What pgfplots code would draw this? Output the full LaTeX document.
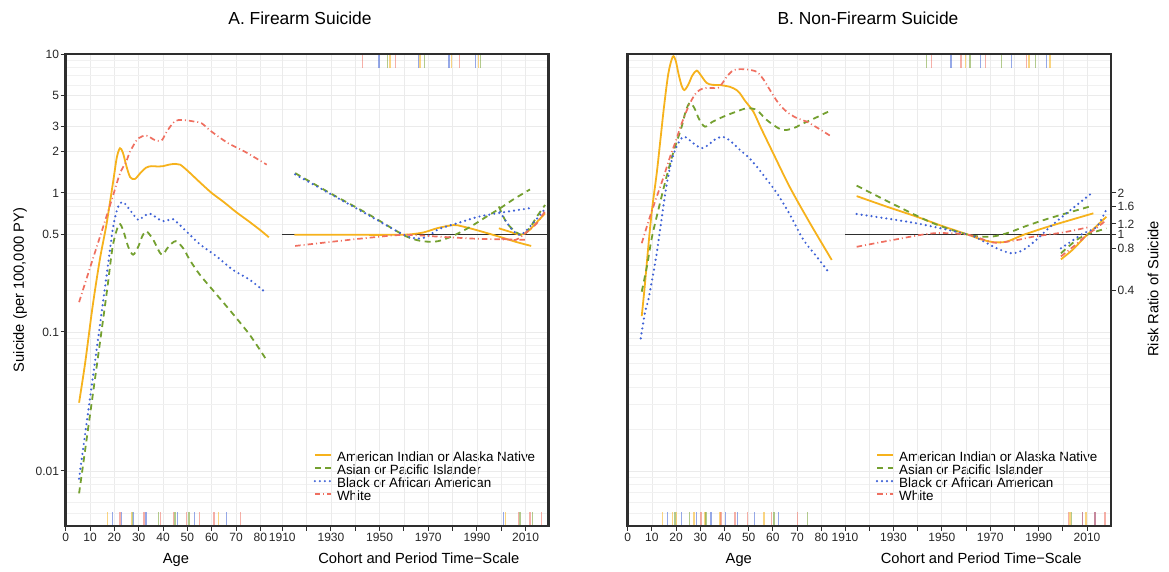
\documentclass[border=0pt]{standalone}
\usepackage{pgfplots}
\pgfplotsset{compat=1.18}
\usepackage{fontspec}
\setmainfont{Liberation Sans}
\definecolor{cA}{HTML}{F6B21C}
\definecolor{cB}{HTML}{74A030}
\definecolor{cC}{HTML}{3F62D6}
\definecolor{cD}{HTML}{EF6F60}
\definecolor{gridc}{HTML}{EBEBEB}
\definecolor{framec}{HTML}{2E2E2E}
\tikzset{
  sA/.style={cA, line width=1.8pt},
  sB/.style={cB, line width=1.8pt, dash pattern=on 6pt off 4.5pt},
  sC/.style={cC, line width=2.4pt, line cap=round, dash pattern=on 0pt off 5pt},
  sD/.style={cD, line width=1.7pt, dash pattern=on 5.5pt off 3pt on 1pt off 3pt},
  myrug/.style={line width=1.3pt, opacity=0.55},
  myref/.style={framec, line width=1.1pt},
  myframe/.style={draw=framec, line width=2.6pt, fill=none, opacity=1},
}
\begin{document}
\begin{tikzpicture}
\useasboundingbox (0,0) rectangle (1169pt,572pt);
% ================= Panel A: age =================
\begin{axis}[scale only axis, width=483pt, height=472pt, at={(65.7pt,46pt)}, anchor=south west,
  ymode=log, ymin=0.004018, ymax=10, xmin=0, xmax=198.5,
  axis line style={draw=none},
  tick style={framec, line width=1pt},
  tick align=outside, major tick length=5pt, minor tick length=0pt,
  xtick pos=bottom, ytick pos=left,
  tick label style={font=\fontsize{12}{12}\selectfont, text=black!85, inner sep=1.5pt},
  grid style={gridc, line width=0.7pt},
  minor grid style={gridc!70, line width=0.5pt},
  xmajorgrids, ymajorgrids, yminorgrids,
  minor ytick={0.005,0.006,0.007,0.008,0.009,0.02,0.03,0.04,0.05,0.06,0.07,0.08,0.09,0.2,0.3,0.4,0.6,0.7,0.8,0.9,4,6,7,8,9},
  xtick={0,10,...,80}, xticklabels={0,10,20,30,40,50,60,70,80},
  ytick={0.01,0.1,0.5,1,2,3,5,10}, yticklabels={0.01,0.1,0.5,1,2,3,5,10},
  unbounded coords=jump,
  legend style={at={(0.513,0.157)}, anchor=north west, draw=none, fill=none,
      inner sep=0pt, row sep=0pt, font=\fontsize{13.4}{13.4}\selectfont,
      nodes={inner ysep=0pt, inner xsep=4pt, text height=9.7pt, text depth=3.3pt}},
  legend cell align=left,
  legend image code/.code={\draw[#1] (0pt,3.5pt) -- (17pt,3.5pt);}]
\addplot[sA, smooth] coordinates {(5.5,0.031) (8,0.06) (11,0.15) (14,0.33) (16.8,0.6) (19.6,1.24) (21,1.8) (22.3,2.1) (23.5,1.95) (25,1.55) (26.5,1.3) (28.4,1.26) (30.5,1.38) (33,1.52) (35.2,1.56) (38,1.55) (40,1.56) (42.5,1.6) (45,1.62) (47,1.6) (50,1.45) (55,1.2) (60,1.0) (65,0.86) (70,0.73) (75,0.63) (80,0.54) (83.5,0.48)};
\addlegendentry{American Indian or Alaska Native}
\addplot[sB, smooth] coordinates {(5.5,0.0069) (8,0.0142) (11,0.034) (14,0.082) (17,0.2) (19,0.38) (20.2,0.485) (22,0.6) (23.6,0.54) (25.7,0.41) (27.7,0.36) (29.8,0.41) (31.5,0.49) (33.2,0.53) (36,0.46) (39.4,0.36) (42.2,0.41) (45.2,0.45) (48.3,0.40) (51,0.33) (55,0.26) (62,0.186) (68.7,0.135) (75.7,0.095) (82.5,0.063)};
\addlegendentry{Asian or Pacific Islander}
\addplot[sC, smooth] coordinates {(5.5,0.0088) (8,0.0185) (11,0.045) (14,0.11) (17,0.27) (19.5,0.57) (21.6,0.80) (23.6,0.86) (26.4,0.755) (29.8,0.64) (32,0.68) (34.6,0.71) (37,0.67) (39.4,0.63) (41.5,0.63) (44,0.65) (47.7,0.57) (55,0.43) (62,0.35) (68.7,0.28) (75.7,0.237) (82.5,0.19)};
\addlegendentry{Black or African American}
\addplot[sD, smooth] coordinates {(5.5,0.164) (10,0.29) (14.1,0.485) (18.9,0.89) (22.3,1.38) (25,1.7) (26.4,1.98) (29.8,2.47) (33.3,2.58) (36.7,2.4) (39.5,2.4) (41.5,2.76) (44.9,3.29) (48.3,3.35) (53.1,3.26) (55.9,3.17) (60,2.76) (66.8,2.28) (73.7,1.98) (82.6,1.6)};
\addlegendentry{White}
\addplot[myrug, cA, forget plot] coordinates {(17.3,0.004018) (17.3,0.00509) (17.3,nan) (27.1,0.004018) (27.1,0.00509) (27.1,nan) (62.7,0.004018) (62.7,0.00509)};
\addplot[myrug, cB, forget plot] coordinates {(27.4,0.004018) (27.4,0.00509) (27.4,nan) (38.1,0.004018) (38.1,0.00509) (38.1,nan) (44.9,0.004018) (44.9,0.00509) (44.9,nan) (50.7,0.004018) (50.7,0.00509)};
\addplot[myrug, cC, forget plot] coordinates {(19.2,0.004018) (19.2,0.00509) (19.2,nan) (23.0,0.004018) (23.0,0.00509) (23.0,nan) (27.8,0.004018) (27.8,0.00509) (27.8,nan) (33.0,0.004018) (33.0,0.00509) (33.0,nan) (45.9,0.004018) (45.9,0.00509) (45.9,nan) (52.9,0.004018) (52.9,0.00509) (52.9,nan) (66.2,0.004018) (66.2,0.00509)};
\addplot[myrug, cD, forget plot] coordinates {(22.3,0.004018) (22.3,0.00509) (22.3,nan) (32.2,0.004018) (32.2,0.00509) (32.2,nan) (39.0,0.004018) (39.0,0.00509) (39.0,nan) (44.2,0.004018) (44.2,0.00509) (44.2,nan) (49.7,0.004018) (49.7,0.00509) (49.7,nan) (54.9,0.004018) (54.9,0.00509) (54.9,nan) (61.0,0.004018) (61.0,0.00509) (61.0,nan) (71.9,0.004018) (71.9,0.00509)};
\end{axis}
% ================= Panel A: cohort / period =================
\begin{axis}[scale only axis, width=483pt, height=472pt, at={(65.7pt,46pt)}, anchor=south west,
  ymode=log, ymin=0.004018, ymax=10, xmin=1821, xmax=2019.5, clip=false,
  axis line style={draw=none},
  tick style={framec, line width=1pt},
  tick align=outside, major tick length=5pt,
  xtick pos=bottom,
  tick label style={font=\fontsize{12}{12}\selectfont, text=black!85, inner sep=1.5pt},
  xtick={1910,1920,...,2010}, xticklabels={1910,,1930,,1950,,1970,,1990,,2010},
  xmajorgrids, grid style={gridc, line width=0.7pt}, ytick=\empty, unbounded coords=jump]
\addplot[myref] coordinates {(1910,0.5) (2019.5,0.5)};
\addplot[sA, smooth] coordinates {(1915,0.5) (1935,0.5) (1955,0.5) (1962,0.503) (1968,0.52) (1974,0.56) (1980.5,0.588) (1984,0.575) (1990,0.54) (2000,0.48) (2006,0.445) (2012.3,0.416)};
\addplot[sB, smooth] coordinates {(1915.3,1.39) (1930,0.99) (1945,0.71) (1959.7,0.5) (1965,0.46) (1969.3,0.447) (1974,0.45) (1980,0.49) (1987.2,0.57) (1993,0.66) (1999.5,0.776) (2005,0.9) (2011.8,1.06)};
\addplot[sC, smooth] coordinates {(1915.3,1.36) (1930,0.98) (1945,0.7) (1960,0.5) (1966,0.47) (1970,0.49) (1974.3,0.55) (1982.5,0.61) (1990.7,0.675) (2001.6,0.73) (2012.3,0.78)};
\addplot[sD, smooth] coordinates {(1915.3,0.416) (1930,0.445) (1945,0.475) (1960,0.5) (1974.3,0.485) (1988,0.47) (1997,0.465) (2010,0.46)};
\addplot[sA, smooth] coordinates {(1999,0.557) (2003,0.53) (2008,0.5) (2011,0.53) (2014,0.6) (2018,0.714)};
\addplot[sB, smooth] coordinates {(1999,0.80) (2002,0.62) (2005.6,0.53) (2009,0.5) (2012,0.57) (2014.6,0.675) (2018,0.82)};
\addplot[sC, smooth] coordinates {(1999.5,0.73) (2004,0.557) (2008,0.5) (2013,0.605) (2018,0.77)};
\addplot[sD, smooth] coordinates {(2000,0.47) (2006,0.46) (2009,0.5) (2012,0.55) (2014.6,0.605) (2018,0.74)};
\addplot[myrug, cA] coordinates {(1954.3,7.93) (1954.3,10) (1954.3,nan) (1966.6,7.93) (1966.6,10) (1966.6,nan) (1979.6,7.93) (1979.6,10) (1979.6,nan) (1990.6,7.93) (1990.6,10)};
\addplot[myrug, cB] coordinates {(1953.2,7.93) (1953.2,10) (1953.2,nan) (1968.4,7.93) (1968.4,10) (1968.4,nan) (1991.6,7.93) (1991.6,10)};
\addplot[myrug, cC] coordinates {(1949.8,7.93) (1949.8,10) (1949.8,nan) (1965.9,7.93) (1965.9,10) (1965.9,nan) (1978.5,7.93) (1978.5,10) (1978.5,nan) (1989.5,7.93) (1989.5,10)};
\addplot[myrug, cD] coordinates {(1942.9,7.93) (1942.9,10) (1942.9,nan) (1956.6,7.93) (1956.6,10) (1956.6,nan) (1982.7,7.93) (1982.7,10)};
\addplot[myrug, cA] coordinates {(2001.8,0.004018) (2001.8,0.00509)};
\addplot[myrug, cB] coordinates {(2007.7,0.004018) (2007.7,0.00509) (2007.7,nan) (2012.8,0.004018) (2012.8,0.00509)};
\addplot[myrug, cC] coordinates {(2000.9,0.004018) (2000.9,0.00509)};
\addplot[myrug, cD] coordinates {(2007.0,0.004018) (2007.0,0.00509) (2007.0,nan) (2011.8,0.004018) (2011.8,0.00509) (2011.8,nan) (2016.6,0.004018) (2016.6,0.00509)};
\draw[myframe] (rel axis cs:0,0) rectangle (rel axis cs:1,1);
\end{axis}
% ================= Panel B: age =================
\begin{axis}[scale only axis, width=483.3pt, height=472pt, at={(627.7pt,46pt)}, anchor=south west,
  ymode=log, ymin=0.004018, ymax=10, xmin=0, xmax=199.7,
  axis line style={draw=none},
  tick style={framec, line width=1pt},
  tick align=outside, major tick length=5pt, minor tick length=0pt,
  xtick pos=bottom, ytick pos=left,
  tick label style={font=\fontsize{12}{12}\selectfont, text=black!85, inner sep=1.5pt},
  grid style={gridc, line width=0.7pt},
  minor grid style={gridc!70, line width=0.5pt},
  xmajorgrids, ymajorgrids, yminorgrids,
  minor ytick={0.005,0.006,0.007,0.008,0.009,0.02,0.03,0.04,0.05,0.06,0.07,0.08,0.09,0.2,0.3,0.4,0.6,0.7,0.8,0.9,4,6,7,8,9},
  xtick={0,10,...,80}, xticklabels={0,10,20,30,40,50,60,70,80},
  ytick={0.01,0.1,0.5,1,2,3,5,10}, yticklabels={,,,,,,,}, ytick style={draw=none},
  unbounded coords=jump,
  legend style={at={(0.513,0.157)}, anchor=north west, draw=none, fill=none,
      inner sep=0pt, row sep=0pt, font=\fontsize{13.4}{13.4}\selectfont,
      nodes={inner ysep=0pt, inner xsep=4pt, text height=9.7pt, text depth=3.3pt}},
  legend cell align=left,
  legend image code/.code={\draw[#1] (0pt,3.5pt) -- (17pt,3.5pt);}]
\addplot[sA, smooth] coordinates {(5.8,0.13) (7,0.21) (8.5,0.41) (10,0.75) (12,1.39) (13.5,2.4) (15,4.17) (16.8,7.26) (18.6,9.56) (19.8,9.0) (21,7.2) (22.3,5.9) (23.4,5.5) (25,6.0) (26.7,7.0) (28.5,7.6) (30.3,7.0) (32.6,6.2) (35,6.0) (38.1,5.98) (42.3,5.8) (45,5.5) (46.4,5.2) (48.5,4.6) (51.9,3.85) (55,2.95) (60,1.95) (67,1.1) (75,0.62) (84.3,0.33)};
\addlegendentry{American Indian or Alaska Native}
\addplot[sB, smooth] coordinates {(5.8,0.195) (8,0.3) (10,0.48) (13,0.8) (16,1.3) (19,2.0) (22.3,3.0) (24,3.9) (25.7,4.46) (27.5,4.1) (29.5,3.4) (31.9,3.0) (35,3.25) (39.5,3.54) (44,3.8) (49.2,4.07) (53.3,3.95) (57,3.4) (60.2,3.09) (63,2.88) (65.7,2.84) (69,2.95) (72.6,3.17) (78,3.5) (84.3,3.96)};
\addlegendentry{Asian or Pacific Islander}
\addplot[sC, smooth] coordinates {(5.4,0.09) (7.1,0.137) (8.5,0.17) (10.5,0.26) (12,0.37) (14,0.65) (16.1,1.15) (18.5,1.8) (21,2.3) (23,2.54) (25,2.45) (27.5,2.25) (30.6,2.1) (33,2.2) (36,2.42) (39.2,2.54) (42,2.4) (46.4,2.04) (50,1.8) (53.3,1.55) (57,1.28) (61.6,1.0) (67,0.7) (72.6,0.46) (78,0.35) (83.3,0.265)};
\addlegendentry{Black or African American}
\addplot[sD, smooth] coordinates {(5.8,0.435) (9,0.66) (12,0.94) (14.8,1.3) (17.5,1.82) (20,2.4) (22.3,3.17) (25.7,4.42) (28.5,5.3) (31.2,5.66) (34,5.7) (37.4,5.72) (39.5,6.3) (40.9,6.86) (43,7.5) (45,7.76) (49,7.75) (53.3,7.45) (56,6.6) (58.8,5.5) (62,4.5) (65.7,3.84) (70,3.45) (74,3.26) (79,2.9) (84.3,2.54)};
\addlegendentry{White}
\addplot[myrug, cA, forget plot] coordinates {(14.5,0.004018) (14.5,0.00509) (14.5,nan) (18.6,0.004018) (18.6,0.00509) (18.6,nan) (20.2,0.004018) (20.2,0.00509) (20.2,nan) (27.4,0.004018) (27.4,0.00509) (27.4,nan) (31.9,0.004018) (31.9,0.00509) (31.9,nan) (38.1,0.004018) (38.1,0.00509) (38.1,nan) (56.3,0.004018) (56.3,0.00509)};
\addplot[myrug, cB, forget plot] coordinates {(19.5,0.004018) (19.5,0.00509) (19.5,nan) (25.5,0.004018) (25.5,0.00509) (25.5,nan) (32.4,0.004018) (32.4,0.00509) (32.4,nan) (60.5,0.004018) (60.5,0.00509) (60.5,nan) (74.4,0.004018) (74.4,0.00509)};
\addplot[myrug, cC, forget plot] coordinates {(16.4,0.004018) (16.4,0.00509) (16.4,nan) (22.3,0.004018) (22.3,0.00509) (22.3,nan) (28.5,0.004018) (28.5,0.00509) (28.5,nan) (34.4,0.004018) (34.4,0.00509) (34.4,nan) (40.5,0.004018) (40.5,0.00509) (40.5,nan) (45.5,0.004018) (45.5,0.00509) (45.5,nan) (52.3,0.004018) (52.3,0.00509) (52.3,nan) (62.2,0.004018) (62.2,0.00509)};
\addplot[myrug, cD, forget plot] coordinates {(30.3,0.004018) (30.3,0.00509) (30.3,nan) (38.6,0.004018) (38.6,0.00509) (38.6,nan) (44.3,0.004018) (44.3,0.00509) (44.3,nan) (49.4,0.004018) (49.4,0.00509) (49.4,nan) (59.5,0.004018) (59.5,0.00509) (59.5,nan) (70.2,0.004018) (70.2,0.00509)};
\end{axis}
% ================= Panel B: cohort / period =================
\begin{axis}[scale only axis, width=483.3pt, height=472pt, at={(627.7pt,46pt)}, anchor=south west,
  ymode=log, ymin=0.004018, ymax=10, xmin=1820.2, xmax=2019.9, clip=false,
  axis line style={draw=none},
  tick style={framec, line width=1pt},
  tick align=outside, major tick length=5pt,
  xtick pos=bottom,
  tick label style={font=\fontsize{12}{12}\selectfont, text=black!85, inner sep=1.5pt},
  xtick={1910,1920,...,2010}, xticklabels={1910,,1930,,1950,,1970,,1990,,2010},
  xmajorgrids, grid style={gridc, line width=0.7pt},
  ytick={0.2,0.4,0.5,0.6,0.8,1}, yticklabels={0.4,0.8,1,1.2,1.6,2}, ytick pos=right, yticklabel pos=right,
  unbounded coords=jump]
\addplot[myref] coordinates {(1910,0.5) (2019.9,0.5)};
\addplot[sA, smooth] coordinates {(1914.8,0.95) (1927,0.8) (1939.6,0.675) (1950,0.58) (1961,0.5) (1966,0.465) (1971.3,0.443) (1976.8,0.447) (1983.7,0.5) (1995,0.58) (2012.6,0.714)};
\addplot[sB, smooth] coordinates {(1914.8,1.13) (1930,0.83) (1946.5,0.605) (1961,0.5) (1970,0.485) (1976.8,0.513) (1985,0.58) (1994.7,0.66) (2011.2,0.80)};
\addplot[sC, smooth] coordinates {(1914.8,0.706) (1939.6,0.605) (1961,0.5) (1966,0.46) (1972.7,0.40) (1978.9,0.368) (1983.7,0.39) (1989,0.46) (1994.7,0.57) (2003,0.75) (2012,1.0)};
\addplot[sD, smooth] coordinates {(1914.8,0.41) (1930,0.46) (1946.5,0.513) (1961,0.5) (1971.3,0.44) (1980,0.455) (1987.8,0.485) (2000,0.52) (2011.2,0.57)};
\addplot[sA, smooth] coordinates {(1999.2,0.333) (2004,0.39) (2009,0.48) (2014,0.58) (2018,0.675)};
\addplot[sB, smooth] coordinates {(1999.2,0.368) (2005.7,0.46) (2009.9,0.5) (2014,0.53) (2018,0.557)};
\addplot[sC, smooth] coordinates {(1999.2,0.40) (2004,0.455) (2008.5,0.513) (2014,0.57) (2018,0.763)};
\addplot[sD, smooth] coordinates {(1999.2,0.35) (2005,0.42) (2010,0.5) (2014,0.56) (2018,0.64)};
\addplot[myrug, cA] coordinates {(1959.9,7.93) (1959.9,10) (1959.9,nan) (1986.0,7.93) (1986.0,10) (1986.0,nan) (1994.7,7.93) (1994.7,10)};
\addplot[myrug, cB] coordinates {(1943.8,7.93) (1943.8,10) (1943.8,nan) (1961.6,7.93) (1961.6,10) (1961.6,nan) (1974.7,7.93) (1974.7,10) (1974.7,nan) (1988.8,7.93) (1988.8,10)};
\addplot[myrug, cC] coordinates {(1953.8,7.93) (1953.8,10) (1953.8,nan) (1966.1,7.93) (1966.1,10) (1966.1,nan) (1978.9,7.93) (1978.9,10) (1978.9,nan) (1993.1,7.93) (1993.1,10)};
\addplot[myrug, cD] coordinates {(1945.8,7.93) (1945.8,10) (1945.8,nan) (1957.9,7.93) (1957.9,10) (1957.9,nan) (1968.1,7.93) (1968.1,10) (1968.1,nan) (1985.1,7.93) (1985.1,10)};
\addplot[myrug, cA] coordinates {(2003.0,0.004018) (2003.0,0.00509) (2003.0,nan) (2009.6,0.004018) (2009.6,0.00509)};
\addplot[myrug, cB] coordinates {(2003.7,0.004018) (2003.7,0.00509)};
\addplot[myrug, cC] coordinates {(2008.2,0.004018) (2008.2,0.00509) (2008.2,nan) (2013.3,0.004018) (2013.3,0.00509)};
\addplot[myrug, cD] coordinates {(2002.3,0.004018) (2002.3,0.00509) (2002.3,nan) (2008.2,0.004018) (2008.2,0.00509) (2008.2,nan) (2013.3,0.004018) (2013.3,0.00509) (2013.3,nan) (2017.4,0.004018) (2017.4,0.00509)};
\draw[myframe] (rel axis cs:0,0) rectangle (rel axis cs:1,1);
\end{axis}
% ================= texts =================
\node[font=\fontsize{17.4}{17.4}\selectfont, anchor=base] at (300pt,547pt) {A. Firearm Suicide};
\node[font=\fontsize{17.4}{17.4}\selectfont, anchor=base] at (868pt,547pt) {B. Non-Firearm Suicide};
\node[font=\fontsize{14.7}{14.7}\selectfont, anchor=base] at (176pt,8pt) {Age};
\node[font=\fontsize{14.7}{14.7}\selectfont, anchor=base] at (418.8pt,8pt) {Cohort and Period Time−Scale};
\node[font=\fontsize{14.7}{14.7}\selectfont, anchor=base] at (738.8pt,8pt) {Age};
\node[font=\fontsize{14.7}{14.7}\selectfont, anchor=base] at (981.2pt,8pt) {Cohort and Period Time−Scale};
\node[font=\fontsize{14.7}{14.7}\selectfont, rotate=90] at (20pt,282pt) {Suicide (per 100,000 PY)};
\node[font=\fontsize{14.7}{14.7}\selectfont, rotate=90] at (1153pt,283pt) {Risk Ratio of Suicide};
\end{tikzpicture}
\end{document}
